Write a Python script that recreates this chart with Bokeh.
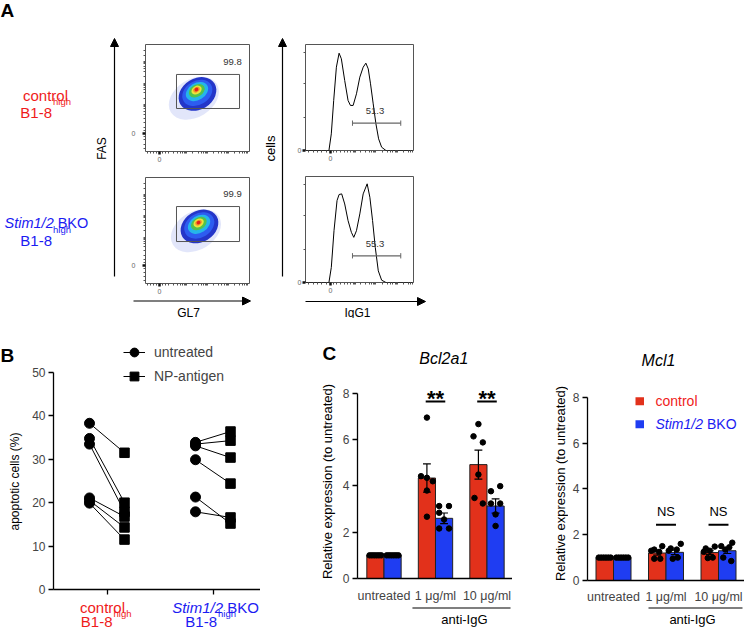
import math
from bokeh.plotting import figure
from bokeh.models import (Range1d, FixedTicker, Label, Arrow, NormalHead, Legend,
                          LegendItem, ColumnDataSource, Spacer, LinearAxis, BoxAnnotation)
from bokeh.layouts import row, column
from bokeh.embed import file_html
from bokeh.resources import INLINE

FONT = "Liberation Sans"
RED_BAR, BLUE_BAR = "#e2311b", "#1f3df2"
RED_TXT, BLUE_TXT = "#ef1b1b", "#1b1bf2"

# ---------------- data ----------------
# Panel A: GL7 x FAS density (contour levels), gates, IgG1 histograms
gate_pct = ["99.8", "99.9"]
igg1_pct = ["51.3", "55.3"]
dens_w = [54, 40, 32, 24, 17, 11, 7, 4]
dens_h = [38, 31, 24, 17, 12, 8, 5, 3.5]
dens_color = ["#8a9cec", "#2436c9", "#2d5cf0", "#25b6ea", "#52c34c", "#ece43a", "#f2952b", "#e5211a"]
dens_alpha = [0.25, 1, 1, 1, 1, 1, 1, 1]
dens1_x = [33.0, 36.5, 36.3, 36.0, 35.8, 35.6, 35.5, 35.5]
dens1_y = [33.0, 37.0, 38.0, 39.2, 40.0, 40.6, 41.0, 41.1]
dens2_x = [35.0, 38.4, 38.2, 38.0, 37.8, 37.6, 37.5, 37.5]
dens2_y = [33.0, 37.0, 38.0, 39.0, 39.8, 40.3, 40.6, 40.7]
gate_x = [16.3, 76.9]
gate1_y = [23.4, 55.2]
gate2_y = [22.8, 55.8]

hist1_x = [-23, -1.3, 0.9, 3.1, 5.6, 8.1, 10.2, 13.3, 16.4, 18.6, 21.1, 24.2, 27.3, 30.4,
           32.9, 35.1, 37.2, 39.7, 42.2, 44.7, 47.5, 51.5, 77]
hist1_y = [0, 0, 15.7, 47.2, 78.6, 91.8, 86.5, 66.0, 47.2, 42.5, 42.5, 53.5, 69.2, 78.6,
           82.4, 77.0, 62.9, 44.0, 25.2, 11.0, 3.1, 0, 0]
hist2_x = [-23, -1.3, 0.9, 3.4, 6.2, 8.1, 10.5, 13.3, 16.4, 19.5, 21.7, 24.2, 27.3, 30.4,
           34.1, 36.6, 39.1, 41.6, 44.4, 47.5, 51.5, 77]
hist2_y = [0, 0, 14.2, 48.9, 77.3, 83.0, 83.6, 74.1, 58.4, 47.3, 42.6, 48.9, 64.7, 83.6,
           93.1, 80.4, 58.4, 33.1, 11.0, 2.2, 0, 0]
igg_gate_x = [20.5, 65.2]
igg_gate_y = [25.8, 25.2]

# Panel B: apoptotic cells (%) paired untreated vs NP-antigen
b_groups = ["control", "Stim1/2 BKO"]
b_untreated = [[38.3, 34.8, 33.5, 21.1, 20.5, 19.9], [33.9, 33.5, 33.1, 29.9, 21.3, 17.9]]
b_np = [[31.5, 20.0, 17.9, 16.8, 14.3, 11.5], [36.4, 34.3, 30.4, 24.4, 15.2, 16.6]]
b_yticks = [0, 10, 20, 30, 40, 50]

# Panel C: relative expression
c_groups = ["untreated", "1 \u03bcg/ml", "10 \u03bcg/ml"]
c_yticks = [0, 2, 4, 6, 8]
bcl_ctrl_mean = [1.0, 4.34, 4.92]
bcl_ctrl_sem = [0.0, 0.61, 0.63]
bcl_bko_mean = [1.0, 2.60, 3.13]
bcl_bko_sem = [0.0, 0.23, 0.31]
bcl_ctrl_pts = [[1, 1, 1, 1, 1, 1], [6.95, 4.42, 4.35, 4.20, 3.80, 2.67], [6.67, 6.14, 5.88, 4.49, 3.48, 3.24]]
bcl_bko_pts = [[1, 1, 1, 1, 1, 1], [3.13, 3.13, 2.84, 2.55, 2.16, 2.16], [3.99, 3.77, 3.24, 3.24, 2.77, 2.27]]
mcl_ctrl_mean = [1.0, 1.20, 1.22]
mcl_ctrl_sem = [0.0, 0.09, 0.08]
mcl_bko_mean = [1.0, 1.23, 1.30]
mcl_bko_sem = [0.0, 0.10, 0.12]
mcl_ctrl_pts = [[1, 1, 1, 1, 1, 1], [1.50, 1.35, 1.30, 1.25, 0.95, 0.95], [1.48, 1.40, 1.30, 1.25, 1.00, 0.98]]
mcl_bko_pts = [[1, 1, 1, 1, 1, 1], [1.60, 1.40, 1.35, 1.30, 1.00, 0.95], [1.65, 1.50, 1.45, 1.35, 1.00, 0.85]]
bcl_sig = ["**", "**"]
mcl_sig = ["NS", "NS"]
sig_groups = [1, 2]
bcl_sig_y = 7.65
mcl_sig_y = 2.43

# jitter of the dots inside each bar (pixels)
jit_flat = [-6, -3.6, -1.2, 1.2, 3.6, 6]
bcl_ctrl_jit = [jit_flat, [0, -6, 0, 6, 0, 0], [0, -5, 4.5, 0, -4, 4.5]]
bcl_bko_jit = [jit_flat, [-5, 5, -5, 0, -5, 5], [4.7, -4.7, -4.7, 4.7, 0, 0]]
mcl_ctrl_jit = [jit_flat, [5, -3, -6, 2, -3, 3], [5, -4, 0, -6, 3, -2]]
mcl_bko_jit = [jit_flat, [6, -4, 2, -6, 3, -2], [5, -6, 2, -2, -4, 4]]


# ---------------- helpers ----------------
def base(box, frame, xr, yr, axes=True):
    x0, y0, x1, y1 = box
    fx0, fy0, fx1, fy1 = frame
    kw = {} if axes else dict(x_axis_type=None, y_axis_type=None)
    p = figure(width=x1 - x0, height=y1 - y0, x_range=Range1d(*xr), y_range=Range1d(*yr),
               output_backend="svg", toolbar_location=None,
               min_border_left=fx0 - x0, min_border_right=x1 - fx1,
               min_border_top=fy0 - y0, min_border_bottom=y1 - fy1, **kw)
    p.outline_line_color = None
    p.background_fill_color = "white"
    p.border_fill_color = "white"
    if axes:
        p.xgrid.visible = False
        p.ygrid.visible = False
    return p


def mapper(frame, xr, yr):
    fx0, fy0, fx1, fy1 = frame
    X = lambda px: xr[0] + (px - fx0) * (xr[1] - xr[0]) / (fx1 - fx0)
    Y = lambda py: yr[0] + (fy1 - py) * (yr[1] - yr[0]) / (fy1 - fy0)
    return X, Y


def deco(box, frame=None):
    frame = frame or box
    fx0, fy0, fx1, fy1 = frame
    return base(box, frame, (fx0, fx1), (fy1, fy0), axes=False)


def lab(p, x, y, text, size, color="black", align="center", baseline="middle",
        style="normal", angle=0.0):
    p.add_layout(Label(x=x, y=y, text=text, text_font=FONT, text_font_size=f"{size}px",
                       text_color=color, text_align=align, text_baseline=baseline,
                       text_font_style=style, angle=angle))


def arrow(p, xs, ys, xe, ye, lw=1.2):
    p.add_layout(Arrow(end=NormalHead(size=8, fill_color="black", line_color="black", line_width=1),
                       x_start=xs, y_start=ys, x_end=xe, y_end=ye,
                       line_color="black", line_width=lw))


def flow_axes(p, xminor, yminor, ystand):
    for loc, minor, st in (("below", xminor, 2), ("left", yminor, ystand)):
        ax = LinearAxis(ticker=FixedTicker(ticks=[0], minor_ticks=minor),
                        axis_line_color=None, major_tick_in=0, major_tick_out=3,
                        major_tick_line_width=2.5, major_tick_line_color="#111",
                        minor_tick_in=0, minor_tick_out=2, minor_tick_line_color="#555",
                        major_label_text_font_size="7px", major_label_text_color="#666",
                        major_label_text_font=FONT, major_label_standoff=st)
        p.add_layout(ax, loc)
    p.outline_line_color = "#555"
    p.outline_line_width = 1


dot_xminor = [-12, -9, -6, -3, 3, 6, 9, 13, 17, 20, 22, 24, 25, 26, 32, 37, 40, 42, 44, 45, 46,
              52, 57, 60, 62, 64, 65, 66, 72, 77, 80, 82, 84, 85]
dot_yminor = [-14, -10, -6, -3, 3, 6, 10, 14, 18, 21, 23, 25, 26, 27, 33, 38, 41, 43, 45, 46, 47,
              53, 58, 61, 63, 65, 66, 67, 73, 78]
hist_xminor = [-20, -16, -12, -8, -4, 3, 6, 9, 13, 16, 19, 21, 22, 23, 28, 33, 36, 38, 40, 41, 42,
               48, 53, 56, 58, 60, 61, 62, 68, 72, 74, 76]
hist_yminor = [31.4, 63.0, 92.7]

# ---------------- Panel A ----------------
figAL = deco((0, 0, 126, 296))
lab(figAL, 0, 10, "A", 19, align="left", style="bold")
lab(figAL, 45, 95, "control", 15, RED_TXT)
lab(figAL, 51.5, 112, "B1-8", 15, RED_TXT, align="right")
lab(figAL, 52.5, 101, "high", 9.5, RED_TXT, align="left")
lab(figAL, 53.2, 222, "Stim1/2", 14.5, BLUE_TXT, align="right", style="italic")
lab(figAL, 57.2, 222, "BKO", 14.5, BLUE_TXT, align="left")
lab(figAL, 51.5, 240, "B1-8", 15, BLUE_TXT, align="right")
lab(figAL, 52.5, 229, "high", 9.5, BLUE_TXT, align="left")
lab(figAL, 101, 148, "FAS", 12, angle=math.pi / 2)
arrow(figAL, 114, 276, 114, 38)

dot_xr, dot_yr = (-13.5, 86.5), (-16.8, 83.2)
dots = []
for i, (box, frame, dx, dy, gy, ty) in enumerate([
        ((126, 0, 262, 165), (145, 44, 249, 151), dens1_x, dens1_y, gate1_y, 61),
        ((126, 165, 262, 296), (145, 177, 249, 283), dens2_x, dens2_y, gate2_y, 193)]):
    p = base(box, frame, dot_xr, dot_yr, axes=False)
    flow_axes(p, dot_xminor, dot_yminor, 7)
    src = ColumnDataSource(dict(x=dx, y=dy, w=dens_w, h=dens_h, c=dens_color, a=dens_alpha))
    p.ellipse(x="x", y="y", width="w", height="h", angle=0.55, width_units="screen",
              height_units="screen", fill_color="c", fill_alpha="a", line_color=None, source=src)
    p.quad(left=gate_x[0], right=gate_x[1], bottom=gy[0], top=gy[1], fill_color=None,
           line_color="#555", line_width=1)
    X, Y = mapper(frame, dot_xr, dot_yr)
    lab(p, X(232), Y(ty), gate_pct[i], 9.5, "#333")
    dots.append(p)

figCells = deco((262, 0, 292, 296))
lab(figCells, 270, 148, "cells", 13, angle=math.pi / 2)
arrow(figCells, 282, 276, 282, 38)

hist_xr, hist_yr = (-23, 77), (0, 100)
hists = []
for i, (box, frame, hx, hy) in enumerate([
        ((292, 0, 430, 165), (305, 44, 413, 150), hist1_x, hist1_y),
        ((292, 165, 430, 296), (305, 176, 413, 282), hist2_x, hist2_y)]):
    p = base(box, frame, hist_xr, hist_yr, axes=False)
    flow_axes(p, hist_xminor, hist_yminor, 1)
    p.line(hx, hy, line_color="black", line_width=1)
    gy = igg_gate_y[i]
    p.segment(x0=[igg_gate_x[0]], y0=[gy], x1=[igg_gate_x[1]], y1=[gy], line_color="#666", line_width=1.3)
    p.segment(x0=igg_gate_x, y0=[gy - 2.5] * 2, x1=igg_gate_x, y1=[gy + 2.5] * 2, line_color="#666", line_width=1)
    lab(p, 41.3, gy + 11.3, igg1_pct[i], 9.5, "#333")
    hists.append(p)

figArr = deco((0, 296, 430, 318))
arrow(figArr, 133, 300.5, 250, 300.5)
lab(figArr, 188, 312, "GL7", 12)
arrow(figArr, 305, 301, 425, 301)
lab(figArr, 357, 312, "IgG1", 12)

topA = row(figAL, column(dots[0], dots[1]), figCells, column(hists[0], hists[1]),
           Spacer(width=314, height=296))
topB = row(figArr, Spacer(width=314, height=22))

# ---------------- Panel B ----------------
B_BOX, B_FR = (28, 318, 260, 598), (53, 330, 260, 589)
bxr = ((53 - 106.5) / 106, (260 - 106.5) / 106)
byr = (0, (589 - 330) / 4.34)
pB = base(B_BOX, B_FR, bxr, byr)
off = 17.5 / 106
xs_c, xs_s, ys_u, ys_n = [], [], [], []
for g in range(len(b_groups)):
    for u, n in zip(b_untreated[g], b_np[g]):
        xs_c.append(g - off); xs_s.append(g + off); ys_u.append(u); ys_n.append(n)
seg = pB.segment(x0=xs_c, y0=ys_u, x1=xs_s, y1=ys_n, line_color="black", line_width=1)
circ = pB.scatter(xs_c, ys_u, marker="circle", size=10, fill_color="black", line_color="black")
sq = pB.scatter(xs_s, ys_n, marker="square", size=9.5, fill_color="black", line_color="black")
ax = pB.xaxis[0]
ax.ticker = FixedTicker(ticks=[0, 1])
ax.major_label_overrides = {0: "", 1: ""}
ax.major_label_text_font_size = "1px"
ax.major_label_standoff = 0
ax.major_tick_in = 0; ax.major_tick_out = 5
ax.axis_line_width = 1.3; ax.major_tick_line_width = 1.3
ay = pB.yaxis[0]
ay.ticker = FixedTicker(ticks=b_yticks)
ay.bounds = (0, 50)
ay.major_tick_in = 0; ay.major_tick_out = 5
ay.axis_line_width = 1.3; ay.major_tick_line_width = 1.3
ay.major_label_text_font = FONT; ay.major_label_text_font_size = "12px"
ay.major_label_standoff = 3
legB = Legend(items=[LegendItem(label="untreated", renderers=[seg, circ]),
                     LegendItem(label="NP-antigen", renderers=[seg, sq])],
              location=(70, 201), orientation="vertical", border_line_color=None,
              background_fill_alpha=0, padding=0, spacing=0, margin=0,
              glyph_width=22, glyph_height=24, label_height=24, label_standoff=9,
              label_text_font=FONT, label_text_font_size="14px")
pB.add_layout(legB)

figBX = deco((28, 598, 260, 630), (53, 598, 260, 630))
lab(figBX, 102, 606.5, "control", 15, RED_TXT)
lab(figBX, 112, 621, "B1-8", 15, RED_TXT, align="right")
lab(figBX, 113, 612.5, "high", 9.5, RED_TXT, align="left")
lab(figBX, 222.5, 606.5, "Stim1/2", 15, BLUE_TXT, align="right", style="italic")
lab(figBX, 226.7, 606.5, "BKO", 15, BLUE_TXT, align="left")
lab(figBX, 216.5, 621, "B1-8", 15, BLUE_TXT, align="right")
lab(figBX, 217.5, 612.5, "high", 9.5, BLUE_TXT, align="left")

figBL = deco((0, 318, 28, 630))
lab(figBL, 0, 355, "B", 19, align="left", style="bold")
lab(figBL, 14, 481, "apoptotic cells (%)", 12, angle=math.pi / 2)


# ---------------- Panel C ----------------
def panel_c(box, frame, g0px, ypx, title, title_pos, cm, cs, cp, cj, bm, bs, bp, bj,
            sig, sig_y, sig_fs, sig_bold, sig_text_py, standoff):
    fx0, fy0, fx1, fy1 = frame
    xr = ((fx0 - g0px) / 52.5, (fx1 - g0px) / 52.5)
    yr = (0, (fy1 - fy0) / ypx)
    p = base(box, frame, xr, yr)
    X, Y = mapper(frame, xr, yr)
    n = len(c_groups)
    hw = 1 / 6
    for side, mean, sem, pts, jit, col in ((-1, cm, cs, cp, cj, RED_BAR), (1, bm, bs, bp, bj, BLUE_BAR)):
        xs = [g + side * hw for g in range(n)]
        p.vbar(x=xs, top=mean, width=2 * hw, bottom=0, fill_color=col, line_color="#222", line_width=1)
        ex = [x for x, s in zip(xs, sem) if s > 0]
        lo = [m - s for m, s in zip(mean, sem) if s > 0]
        hi = [m + s for m, s in zip(mean, sem) if s > 0]
        cap = 4 / 52.5
        p.segment(x0=ex, y0=lo, x1=ex, y1=hi, line_color="black", line_width=1.2)
        p.segment(x0=[x - cap for x in ex], y0=hi, x1=[x + cap for x in ex], y1=hi, line_color="black", line_width=1.2)
        p.segment(x0=[x - cap for x in ex], y0=lo, x1=[x + cap for x in ex], y1=lo, line_color="black", line_width=1.2)
        px_, py_ = [], []
        for g in range(n):
            for v, j in zip(pts[g], jit[g]):
                px_.append(xs[g] + j / 52.5); py_.append(v)
        p.scatter(px_, py_, marker="circle", size=5.5, fill_color="black", line_color="black")
    p.segment(x0=[g - 0.19 for g in sig_groups], y0=[sig_y] * len(sig_groups),
              x1=[g + 0.19 for g in sig_groups], y1=[sig_y] * len(sig_groups),
              line_color="black", line_width=2)
    for g, t in zip(sig_groups, sig):
        lab(p, g, Y(sig_text_py), t, sig_fs, style="bold" if sig_bold else "normal")
    ax = p.xaxis[0]
    ax.ticker = FixedTicker(ticks=list(range(n)))
    ax.major_label_overrides = {i: c_groups[i] for i in range(n)}
    ax.major_tick_in = 0; ax.major_tick_out = 0
    ax.major_label_standoff = standoff
    ax.major_label_text_font = FONT; ax.major_label_text_font_size = "12.5px"
    ax.axis_line_width = 1.3
    ay = p.yaxis[0]
    ay.ticker = FixedTicker(ticks=c_yticks)
    ay.bounds = (0, 8)
    ay.major_tick_in = 0; ay.major_tick_out = 5
    ay.axis_line_width = 1.3; ay.major_tick_line_width = 1.3
    ay.major_label_text_font = FONT; ay.major_label_text_font_size = "12px"
    ay.major_label_standoff = 3
    lab(p, X(title_pos[0]), Y(title_pos[1]), title, 16, style="italic")
    return p, X, Y


def bracket_fig(box, frame, x0, x1, ly, tx, ty):
    f = deco(box, frame)
    f.add_layout(Arrow(end=None, start=None, x_start=x0, y_start=ly, x_end=x1, y_end=ly,
                       line_color="black", line_width=1.2))
    lab(f, tx, ty, "anti-IgG", 13)
    return f


pC1, X1, Y1 = panel_c((339, 318, 512, 605), (354, 350, 512, 579), 381, 23.25, "Bcl2a1", (442, 358),
                      bcl_ctrl_mean, bcl_ctrl_sem, bcl_ctrl_pts, bcl_ctrl_jit,
                      bcl_bko_mean, bcl_bko_sem, bcl_bko_pts, bcl_bko_jit,
                      bcl_sig, bcl_sig_y, 22, True, 398.5, 10)
figC1X = bracket_fig((339, 605, 512, 630), (354, 605, 512, 630), 410, 510, 607.5, 463, 618.5)
figC1L = deco((260, 318, 339, 630))
lab(figC1L, 322, 353, "C", 19, align="left", style="bold")
lab(figC1L, 327, 481, "Relative expression (to untreated)", 13, angle=math.pi / 2)

pC2, X2, Y2 = panel_c((568, 318, 744, 606), (587, 350, 744, 581), 613, 23.0, "Mcl1", (658, 360),
                      mcl_ctrl_mean, mcl_ctrl_sem, mcl_ctrl_pts, mcl_ctrl_jit,
                      mcl_bko_mean, mcl_bko_sem, mcl_bko_pts, mcl_bko_jit,
                      mcl_sig, mcl_sig_y, 13, False, 512, 9)
figC2X = bracket_fig((568, 606, 744, 630), (587, 606, 744, 630), 648, 742, 607.5, 692, 618.5)
figC2L = deco((512, 318, 568, 630))
lab(figC2L, 560, 483, "Relative expression (to untreated)", 13, angle=math.pi / 2)

# legend of panel C (keys + labels)
for (t, b), colr in (((397, 405), RED_BAR), ((420, 428), BLUE_BAR)):
    pC2.add_layout(BoxAnnotation(left=X2(635), right=X2(643.5), top=Y2(t), bottom=Y2(b),
                                 fill_color=colr, fill_alpha=1, line_color=None))
lab(pC2, X2(655), Y2(401), "control", 14, RED_TXT, align="left")
lab(pC2, X2(655), Y2(424), "Stim1/2", 14, BLUE_TXT, align="left", style="italic")
lab(pC2, X2(706.5), Y2(424), "BKO", 14, BLUE_TXT, align="left")

bottom = row(figBL, column(pB, figBX), figC1L, column(pC1, figC1X), figC2L, column(pC2, figC2X))
layout = column(topA, topB, bottom)
open("out.html", "w").write(file_html(layout, INLINE, title="figure"))
